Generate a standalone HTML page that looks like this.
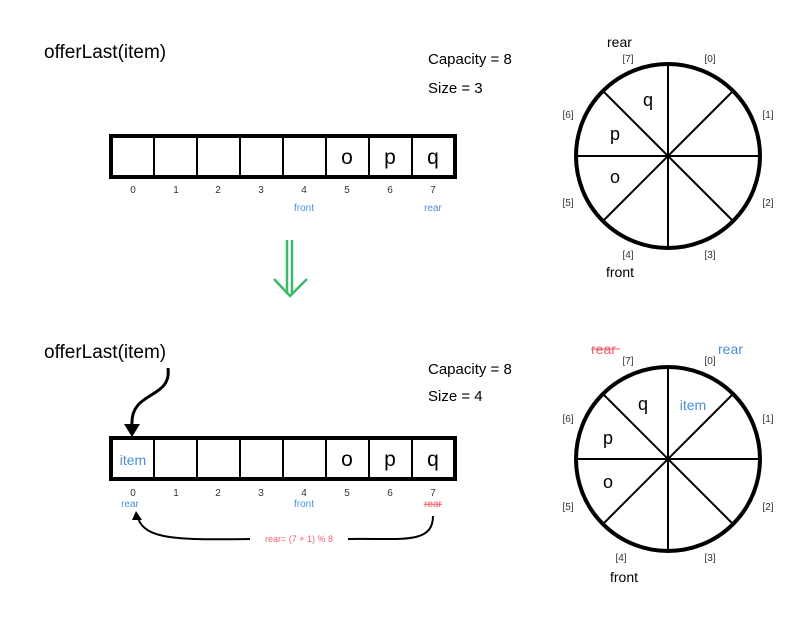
<!DOCTYPE html>
<html><head><style>body{margin:0;background:#fff}svg{display:block}</style></head><body>
<svg width="812" height="617" viewBox="0 0 812 617" xmlns="http://www.w3.org/2000/svg" font-family="Liberation Sans, sans-serif">
<rect width="812" height="617" fill="#fff"/>
<!-- TOP -->
<text x="44" y="58" font-size="19">offerLast(item)</text>
<text x="428" y="64" font-size="15">Capacity = 8</text>
<text x="428" y="93" font-size="15">Size = 3</text>
<g stroke="#000" stroke-width="4" fill="none"><rect x="111" y="136" width="344" height="41"/></g>
<g stroke="#000" stroke-width="2">
<line x1="154" y1="136" x2="154" y2="177"/><line x1="197" y1="136" x2="197" y2="177"/><line x1="240" y1="136" x2="240" y2="177"/><line x1="283" y1="136" x2="283" y2="177"/><line x1="326" y1="136" x2="326" y2="177"/><line x1="369" y1="136" x2="369" y2="177"/><line x1="412" y1="136" x2="412" y2="177"/>
</g>
<g font-size="21" text-anchor="middle"><text x="347" y="164">o</text><text x="390" y="164">p</text><text x="433" y="164">q</text></g>
<g font-size="10" text-anchor="middle" fill="#333"><text x="133" y="193">0</text><text x="176" y="193">1</text><text x="218" y="193">2</text><text x="261" y="193">3</text><text x="304" y="193">4</text><text x="347" y="193">5</text><text x="390" y="193">6</text><text x="433" y="193">7</text></g>
<g font-size="10" text-anchor="middle" fill="#4a8fd6"><text x="304" y="211">front</text><text x="433" y="211">rear</text></g>
<!-- top circle -->
<g stroke="#000" stroke-width="2">
<line x1="668" y1="64" x2="668" y2="248"/><line x1="576" y1="156" x2="760" y2="156"/>
<line x1="603" y1="91" x2="733" y2="221"/><line x1="733" y1="91" x2="603" y2="221"/>
</g>
<circle cx="668" cy="156" r="92" fill="none" stroke="#000" stroke-width="4"/>
<g font-size="18" text-anchor="middle"><text x="648" y="106">q</text><text x="615" y="140">p</text><text x="615" y="183">o</text></g>
<g font-size="10" text-anchor="middle" fill="#333"><text x="628" y="62">[7]</text><text x="710" y="62">[0]</text><text x="768" y="118">[1]</text><text x="768" y="206">[2]</text><text x="710" y="258">[3]</text><text x="628" y="258">[4]</text><text x="568" y="206">[5]</text><text x="568" y="118">[6]</text></g>
<text x="607" y="47" font-size="14">rear</text>
<text x="606" y="277" font-size="14">front</text>
<!-- green arrow -->
<g stroke="#3cb86a" stroke-width="2.5" fill="none"><line x1="287" y1="240" x2="287" y2="294"/><line x1="292" y1="240" x2="292" y2="294"/><polyline points="274,279 290,296 307,279"/></g>
<!-- BOTTOM -->
<text x="44" y="358" font-size="19">offerLast(item)</text>
<text x="428" y="374" font-size="15">Capacity = 8</text>
<text x="428" y="401" font-size="15">Size = 4</text>
<path d="M168 368 C172 400 130 390 132 425" stroke="#000" stroke-width="3" fill="none"/>
<polygon points="124,424 140,424 132,437" fill="#000"/>
<g stroke="#000" stroke-width="4" fill="none"><rect x="111" y="438" width="344" height="41"/></g>
<g stroke="#000" stroke-width="2">
<line x1="154" y1="438" x2="154" y2="479"/><line x1="197" y1="438" x2="197" y2="479"/><line x1="240" y1="438" x2="240" y2="479"/><line x1="283" y1="438" x2="283" y2="479"/><line x1="326" y1="438" x2="326" y2="479"/><line x1="369" y1="438" x2="369" y2="479"/><line x1="412" y1="438" x2="412" y2="479"/>
</g>
<text x="133" y="465" font-size="14" text-anchor="middle" fill="#4a8fd6">item</text>
<g font-size="21" text-anchor="middle"><text x="347" y="466">o</text><text x="390" y="466">p</text><text x="433" y="466">q</text></g>
<g font-size="10" text-anchor="middle" fill="#333"><text x="133" y="496">0</text><text x="176" y="496">1</text><text x="218" y="496">2</text><text x="261" y="496">3</text><text x="304" y="496">4</text><text x="347" y="496">5</text><text x="390" y="496">6</text><text x="433" y="496">7</text></g>
<g font-size="10" text-anchor="middle"><text x="130" y="507" fill="#4a8fd6">rear</text><text x="304" y="507" fill="#4a8fd6">front</text><text x="433" y="507" fill="#f06070" text-decoration="line-through">rear</text></g>
<path d="M433 516 C433 545 400 538 348 539" stroke="#000" stroke-width="2" fill="none"/>
<path d="M250 539 C180 540 145 540 138 518" stroke="#000" stroke-width="2" fill="none"/>
<polygon points="132,520 142,520 136,511" fill="#000"/>
<text x="299" y="542" font-size="9" text-anchor="middle" fill="#f06070">rear= (7 + 1) % 8</text>
<!-- bottom circle -->
<g stroke="#000" stroke-width="2">
<line x1="668" y1="367" x2="668" y2="551"/><line x1="576" y1="459" x2="760" y2="459"/>
<line x1="603" y1="394" x2="733" y2="524"/><line x1="733" y1="394" x2="603" y2="524"/>
</g>
<circle cx="668" cy="459" r="92" fill="none" stroke="#000" stroke-width="4"/>
<g font-size="18" text-anchor="middle"><text x="643" y="410">q</text><text x="608" y="444">p</text><text x="608" y="488">o</text></g>
<text x="693" y="410" font-size="14" text-anchor="middle" fill="#4a8fd6">item</text>
<g font-size="10" text-anchor="middle" fill="#333"><text x="628" y="364">[7]</text><text x="710" y="364">[0]</text><text x="768" y="422">[1]</text><text x="768" y="510">[2]</text><text x="710" y="561">[3]</text><text x="621" y="561">[4]</text><text x="568" y="510">[5]</text><text x="568" y="422">[6]</text></g>
<text x="591" y="354" font-size="14" fill="#f06070">rear</text>
<line x1="591" y1="349" x2="620" y2="349" stroke="#f06070" stroke-width="1"/>
<text x="718" y="354" font-size="14" fill="#4a8fd6">rear</text>
<text x="610" y="582" font-size="14">front</text>
</svg>
</body></html>
